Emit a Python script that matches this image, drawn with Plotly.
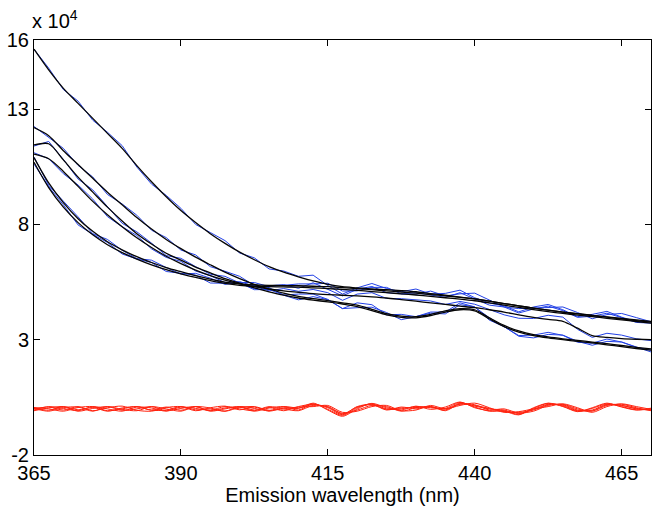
import numpy as np
import plotly.graph_objects as go

# Emission wavelength grid (nm)
wavelength = np.arange(365, 470.01, 2.5)

# Fitted spectra (x 10^4)
fit_a = [15.6, 14.7, 13.9, 13.25, 12.6, 11.95, 11.3, 10.55, 9.85, 9.2, 8.6, 8.08, 7.6, 7.18, 6.8, 6.47, 6.17, 5.93, 5.73, 5.55, 5.4, 5.3, 5.25, 5.2, 5.17, 5.13, 5.08, 5.0, 4.93, 4.85, 4.77, 4.67, 4.57, 4.47, 4.37, 4.28, 4.2, 4.12, 4.05, 3.98, 3.9, 3.83, 3.76]
fit_b1 = [12.2, 11.85, 11.2, 10.6, 10.0, 9.4, 8.85, 8.3, 7.8, 7.35, 6.95, 6.58, 6.25, 5.93, 5.65, 5.4, 5.2, 5.02, 4.88, 4.78, 4.7, 4.6, 4.5, 4.32, 4.13, 4.02, 4.0, 4.1, 4.25, 4.35, 4.3, 3.95, 3.62, 3.38, 3.22, 3.12, 3.04, 2.97, 2.9, 2.83, 2.75, 2.67, 2.6]
fit_b2 = [11.45, 11.5, 10.8, 10.05, 9.4, 8.75, 8.15, 7.6, 7.15, 6.75, 6.45, 6.15, 5.9, 5.65, 5.45, 5.25, 5.08, 4.93, 4.81, 4.72, 4.64, 4.55, 4.44, 4.26, 4.08, 3.97, 3.95, 4.05, 4.2, 4.3, 4.25, 3.9, 3.57, 3.33, 3.18, 3.08, 3.0, 2.93, 2.86, 2.78, 2.7, 2.62, 2.55]
fit_c1 = [10.9, 9.8, 8.95, 8.25, 7.7, 7.25, 6.9, 6.6, 6.35, 6.13, 5.95, 5.78, 5.63, 5.5, 5.42, 5.38, 5.36, 5.35, 5.34, 5.32, 5.3, 5.26, 5.22, 5.17, 5.12, 5.07, 5.02, 4.96, 4.9, 4.84, 4.77, 4.67, 4.57, 4.47, 4.37, 4.28, 4.2, 4.13, 4.06, 3.99, 3.92, 3.86, 3.8]
fit_c2 = [10.7, 9.6, 8.75, 8.08, 7.55, 7.12, 6.78, 6.5, 6.25, 6.04, 5.86, 5.7, 5.56, 5.44, 5.36, 5.32, 5.3, 5.29, 5.28, 5.25, 5.22, 5.18, 5.14, 5.09, 5.04, 4.99, 4.94, 4.88, 4.82, 4.76, 4.69, 4.6, 4.5, 4.4, 4.31, 4.22, 4.14, 4.07, 4.0, 3.93, 3.86, 3.79, 3.72]
fit_d = [11.05, 10.85, 10.3, 9.65, 9.0, 8.42, 7.9, 7.42, 7.0, 6.62, 6.3, 6.02, 5.78, 5.58, 5.42, 5.3, 5.2, 5.12, 5.06, 5.0, 4.96, 4.93, 4.9, 4.86, 4.81, 4.74, 4.67, 4.6, 4.53, 4.46, 4.39, 4.3, 4.2, 4.08, 3.97, 3.88, 3.8, 3.5, 3.18, 3.1, 3.05, 3.02, 3.0]

# Residuals (measured - fit, x 10^4)
res_a = [0.0, 0.08, -0.05, 0.1, -0.08, 0.05, 0.12, -0.06, -0.1, 0.06, 0.1, -0.08, 0.05, 0.12, -0.04, 0.08, -0.1, 0.05, 0.02, 0.25, -0.05, -0.32, 0.0, 0.24, 0.05, -0.05, 0.12, -0.02, 0.08, 0.3, 0.05, -0.08, -0.1, -0.26, 0.05, 0.25, 0.1, -0.12, 0.05, 0.25, 0.08, -0.05, 0.03]
res_b1 = [0.05, -0.06, 0.1, -0.04, 0.06, -0.1, 0.04, 0.1, -0.05, 0.08, -0.06, 0.1, -0.08, 0.04, 0.1, -0.05, 0.06, -0.08, 0.1, 0.2, 0.05, -0.25, 0.1, 0.2, -0.05, 0.08, 0.0, 0.1, -0.05, 0.25, 0.12, 0.0, -0.05, -0.2, -0.02, 0.2, 0.15, -0.08, -0.05, 0.2, 0.15, 0.0, -0.05]
res_b2 = [-0.05, 0.1, 0.02, -0.08, 0.1, 0.0, -0.1, 0.08, 0.04, -0.1, 0.08, 0.02, -0.06, 0.1, 0.0, -0.08, 0.1, 0.0, -0.08, 0.15, 0.1, -0.2, -0.05, 0.15, 0.1, -0.1, 0.05, 0.1, -0.08, 0.22, 0.18, -0.05, 0.0, -0.18, -0.1, 0.15, 0.2, 0.0, -0.1, 0.15, 0.2, 0.05, -0.08]
res_c1 = [0.02, -0.1, 0.06, 0.08, -0.1, 0.1, -0.02, -0.08, 0.1, 0.0, -0.1, 0.1, 0.04, -0.1, 0.06, 0.1, -0.06, 0.0, 0.08, 0.1, 0.15, -0.15, -0.1, 0.1, 0.15, -0.08, -0.05, 0.15, 0.0, 0.15, 0.25, 0.05, -0.15, -0.12, 0.0, 0.1, 0.22, 0.05, -0.15, 0.1, 0.22, 0.1, -0.02]
res_c2 = [-0.08, 0.04, 0.1, -0.1, 0.02, 0.1, -0.06, 0.0, 0.1, -0.08, 0.02, 0.1, -0.1, 0.0, 0.08, -0.1, 0.04, 0.1, -0.05, 0.22, -0.02, -0.28, 0.05, 0.22, 0.0, 0.0, 0.1, 0.05, 0.02, 0.28, 0.08, -0.1, -0.08, -0.24, 0.02, 0.24, 0.12, -0.1, 0.02, 0.22, 0.1, -0.04, 0.0]
res_d = [0.06, 0.0, -0.1, 0.06, 0.1, -0.08, 0.0, 0.1, -0.06, -0.05, 0.1, -0.04, 0.0, -0.1, 0.1, 0.02, -0.08, 0.1, 0.04, 0.18, 0.08, -0.22, 0.08, 0.18, -0.02, 0.04, 0.06, 0.08, 0.0, 0.2, 0.15, 0.02, -0.12, -0.15, -0.05, 0.18, 0.18, -0.05, -0.08, 0.18, 0.15, 0.02, -0.04]

x_ticks = [365, 390, 415, 440, 465]
y_ticks = [-2, 3, 8, 13, 16]

fits = [fit_a, fit_b1, fit_b2, fit_c1, fit_c2, fit_d]
residuals = [res_a, res_b1, res_b2, res_c1, res_c2, res_d]
for arr in fits + residuals:
    assert len(arr) == len(wavelength), len(arr)

BLUE = "rgb(35,65,230)"
BLACK = "rgb(5,5,5)"
RED = "rgb(255,35,15)"

fig = go.Figure()

# measured spectra (blue)
for f, r in zip(fits, residuals):
    meas = np.array(f) + np.array(r)
    fig.add_trace(go.Scatter(x=wavelength, y=meas, mode="lines",
                             line=dict(color=BLUE, width=1), showlegend=False))
# fitted spectra (black)
for f in fits:
    fig.add_trace(go.Scatter(x=wavelength, y=f, mode="lines",
                             line=dict(color=BLACK, width=1.3, shape="spline", smoothing=0.8),
                             showlegend=False))
# residuals (red)
for r in residuals:
    fig.add_trace(go.Scatter(x=wavelength, y=r, mode="lines",
                             line=dict(color=RED, width=1, shape="spline", smoothing=0.8),
                             showlegend=False))

FONT = "Liberation Sans, Arial, sans-serif"
fig.update_layout(
    width=652, height=506,
    margin=dict(l=34, r=1, t=40, b=51),
    paper_bgcolor="white", plot_bgcolor="white",
    font=dict(family=FONT, size=20, color="black"),
    xaxis=dict(range=[365, 470], tickvals=x_ticks, ticktext=[str(v) for v in x_ticks],
               showline=True, linecolor="black", linewidth=1, mirror="ticks",
               ticks="inside", ticklen=6, tickcolor="black", showgrid=False, zeroline=False,
               automargin=False,
               title=dict(text="Emission wavelength (nm)", standoff=0, font=dict(size=20))),
    yaxis=dict(range=[-2, 16], tickvals=y_ticks, ticktext=[str(v) for v in y_ticks],
               showline=True, linecolor="black", linewidth=1, mirror="ticks",
               ticks="inside", ticklen=6, tickcolor="black", showgrid=False, zeroline=False,
               automargin=False),
    annotations=[dict(text="x 10<sup>4</sup>", xref="paper", yref="paper", x=0, y=1,
                      xanchor="left", yanchor="bottom", showarrow=False,
                      font=dict(family=FONT, size=20, color="black"), xshift=-4, yshift=6)],
)

fig.write_html("out.html", config={"displayModeBar": False},
               post_script="document.body.style.margin='0';document.body.style.overflow='hidden';")
